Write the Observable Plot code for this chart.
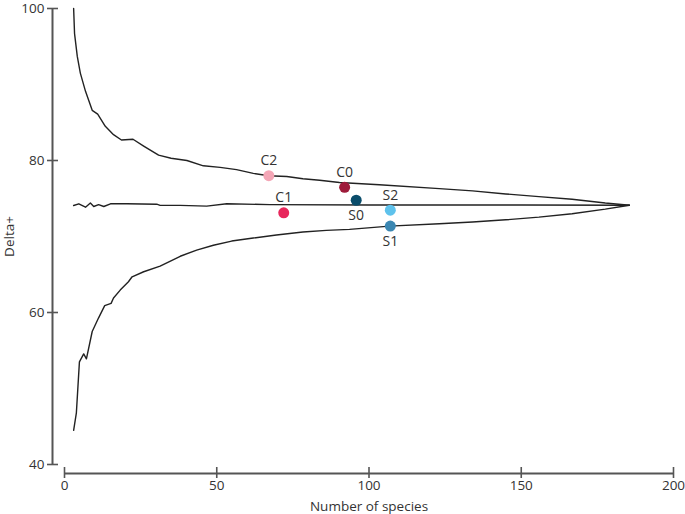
<!DOCTYPE html>
<html><head><meta charset="utf-8">
<script src="https://cdn.jsdelivr.net/npm/d3@7"></script>
<script src="https://cdn.jsdelivr.net/npm/@observablehq/plot@0.6"></script>
<style>body{margin:0;background:#fff}</style>
</head><body><div id="chart"></div>
<script>
const upperX = [3, 3.3, 4.2, 5.2, 6.9, 9.1, 10.9, 13.4, 16.1, 18.7, 22.5, 26, 30.9, 35, 40.2, 45.6, 51.1, 56.5, 62, 67, 73, 78.3, 83.8, 90.3, 103.4, 123.1, 134, 144.9, 155.8, 166.7, 177.6, 185.5];
const upperY = [100, 96.7, 93.7, 91.5, 89.1, 86.6, 86.1, 84.5, 83.4, 82.7, 82.8, 81.9, 80.7, 80.3, 80.0, 79.3, 79.1, 78.8, 78.3, 78.0, 77.9, 77.6, 77.4, 77.1, 76.8, 76.3, 76.0, 75.6, 75.25, 74.9, 74.4, 74.12];
const lowerX = [3, 3.9, 4.9, 6.3, 7.2, 9.1, 11.2, 13.2, 15.3, 16.1, 18.3, 21, 22.2, 26, 31.4, 38, 43.4, 48.9, 54.9, 62, 69.6, 78.3, 86, 93.6, 106.7, 123.1, 134, 144.9, 155.8, 166.7, 177.6, 185.5];
const lowerY = [44.5, 46.8, 53.5, 54.55, 53.9, 57.5, 59.3, 60.9, 61.2, 61.9, 62.95, 64.05, 64.7, 65.36, 66.1, 67.4, 68.2, 68.85, 69.4, 69.8, 70.2, 70.6, 70.8, 70.94, 71.37, 71.67, 71.9, 72.2, 72.55, 73.0, 73.6, 74.12];
const meanX = [3, 4.7, 6.9, 8.5, 9.6, 11.2, 12.9, 15.1, 20.5, 30.3, 31.4, 38, 46.7, 53.3, 67.4, 100, 150, 185.5];
const meanY = [74.08, 74.3, 73.85, 74.4, 73.95, 74.2, 73.95, 74.3, 74.3, 74.25, 74.1, 74.1, 74.0, 74.3, 74.2, 74.15, 74.15, 74.12];

const pointLabels = ["C2", "C0", "S0", "C1", "S2", "S1"];
const pointX = [67.1, 92.0, 95.8, 72.0, 107.0, 107.0];
const pointY = [78.0, 76.47, 74.77, 73.11, 73.46, 71.37];
const pointColors = ["#f4a6b6", "#9e1b3b", "#0a4d6b", "#e8275c", "#5ec2ec", "#3b87b2"];
const labelAbove = [true, true, false, true, true, false];

const xTicks = [0, 50, 100, 150, 200];
const yTicks = [40, 60, 80, 100];

const upper = upperX.map((x, i) => ({x, y: upperY[i]}));
const lower = lowerX.map((x, i) => ({x, y: lowerY[i]}));
const mean = meanX.map((x, i) => ({x, y: meanY[i]}));
const points = pointLabels.map((label, i) => ({label, x: pointX[i], y: pointY[i], color: pointColors[i], above: labelAbove[i]}));

const axisColor = "#555";
const chart = Plot.plot({
  width: 685, height: 514,
  marginLeft: 64, marginRight: 12, marginTop: 8, marginBottom: 50,
  style: {fontFamily: "'Open Sans', sans-serif", fontSize: "13.5px", color: "#333", background: "#fff"},
  x: {domain: [0, 200]},
  y: {domain: [40, 100]},
  color: {type: "identity"},
  marks: [
    Plot.ruleX([0], {y1: 40, y2: 100, dx: -12, stroke: axisColor, strokeWidth: 2}),
    Plot.ruleY([40], {x1: 0, x2: 200, dy: 9, stroke: axisColor, strokeWidth: 2}),
    Plot.axisY({ticks: yTicks, tickSize: 11, dx: -6, tickPadding: 3, stroke: axisColor, strokeWidth: 1.6, fill: "#333",
      label: "Delta+", labelAnchor: "center", labelArrow: false, labelOffset: 60}),
    Plot.axisX({ticks: xTicks, tickSize: 11, dy: 3, tickPadding: 2, stroke: axisColor, strokeWidth: 1.6, fill: "#333",
      label: "Number of species", labelAnchor: "center", labelArrow: false, labelOffset: 46}),
    Plot.line(upper, {x: "x", y: "y", stroke: "#222", strokeWidth: 1.4}),
    Plot.line(lower, {x: "x", y: "y", stroke: "#222", strokeWidth: 1.4}),
    Plot.line(mean, {x: "x", y: "y", stroke: "#222", strokeWidth: 1.4}),
    Plot.dot(points, {x: "x", y: "y", r: 5.5, fill: "color", stroke: "none"}),
    Plot.text(points.filter(d => d.above), {x: "x", y: "y", text: "label", dy: -15, fill: "#333", fontSize: 14}),
    Plot.text(points.filter(d => !d.above), {x: "x", y: "y", text: "label", dy: 15, fill: "#333", fontSize: 14})
  ]
});
document.getElementById("chart").appendChild(chart);
</script>
</body></html>
